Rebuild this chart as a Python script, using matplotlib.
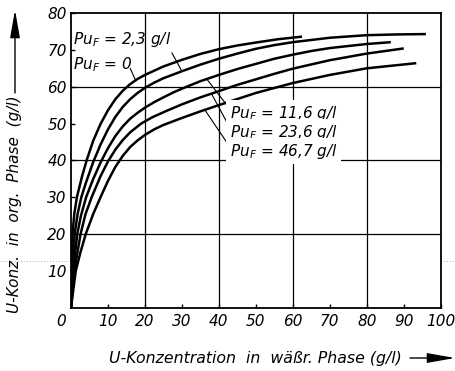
import matplotlib
matplotlib.use("Agg")
import matplotlib.pyplot as plt
from matplotlib.lines import Line2D
from matplotlib.patches import FancyArrowPatch
import matplotlib.transforms as mtransforms

# ---- data ----
c0_x = [0, 0.1, 0.4, 0.9, 1.6, 3, 4.3, 6, 8, 10, 12, 14, 16, 18, 20, 25, 30, 35, 40, 45, 50, 56, 62.5]
c0_y = [0, 10, 20, 25.5, 30, 35.7, 40.2, 45.3, 49.9, 53.6, 56.6, 58.9, 60.7, 62.1, 63.2, 65.5, 67.3, 68.9, 70.2, 71.2, 72, 72.9, 73.6]

c23_x = [0, 0.4, 1.0, 1.8, 2.8, 4, 6, 8, 10, 12, 14, 16, 18, 20, 22.5, 25, 30, 35, 40, 45, 50, 55, 60, 70, 80, 88, 96]
c23_y = [0, 10, 20, 25.5, 30, 33.8, 39.5, 44.3, 48.4, 51.8, 54.5, 56.6, 58.3, 59.7, 61.1, 62.3, 64.2, 66.0, 67.6, 69.0, 70.3, 71.3, 72.1, 73.3, 74, 74.2, 74.3]

c116_x = [0, 0.6, 1.7, 2.7, 4.1, 6, 8, 10, 12, 14, 16, 18, 20, 22.5, 25, 28, 31.3, 35, 40, 45, 50, 55, 60, 65, 70, 80, 86.5]
c116_y = [0, 10, 20, 25, 30, 34.9, 39.4, 43.3, 46.6, 49.2, 51.3, 52.9, 54.3, 55.8, 57.1, 58.6, 60, 61.5, 63.2, 64.8, 66.2, 67.6, 68.7, 69.7, 70.5, 71.6, 72.1]

c236_x = [0, 0.9, 2.6, 3.9, 5.6, 8, 10, 12, 14, 16, 19, 22, 26, 30, 35, 40, 45, 50, 55, 60, 70, 80, 90]
c236_y = [0, 10, 20, 25.3, 30, 35.7, 39.7, 42.9, 45.5, 47.6, 50, 51.7, 53.5, 55.2, 57.1, 58.8, 60.5, 62, 63.5, 64.9, 67.2, 69, 70.4]

c467_x = [0, 1.3, 2.5, 4.0, 6, 8, 10, 12, 14, 16, 18, 20, 22.5, 25, 30, 35, 40, 50, 60, 70, 80, 93.4]
c467_y = [0, 10, 14.8, 20, 25.4, 30, 34.4, 38.2, 41.2, 43.6, 45.4, 46.9, 48.4, 49.6, 51.5, 53.3, 55, 58.3, 61, 63.2, 65, 66.4]

curves_x = [c0_x, c23_x, c116_x, c236_x, c467_x]
curves_y = [c0_y, c23_y, c116_y, c236_y, c467_y]

labels = [r"Pu$_F$ = 0", r"Pu$_F$ = 2,3 g/l", r"Pu$_F$ = 11,6 g/l",
          r"Pu$_F$ = 23,6 g/l", r"Pu$_F$ = 46,7 g/l"]

x_ticks = [0, 10, 20, 30, 40, 50, 60, 70, 80, 90, 100]
y_ticks = [10, 20, 30, 40, 50, 60, 70, 80]
grid_x = [20, 40, 60, 80]
grid_y = [20, 40, 60]

xlabel = "U-Konzentration  in  wäßr. Phase (g/l)"
ylabel = "U-Konz.  in  org.  Phase  (g/l)"

# ---- figure ----
plt.rcParams['font.family'] = ['DejaVu Sans']
plt.rcParams['mathtext.fontset'] = 'dejavusans'
plt.rcParams['mathtext.default'] = 'it'

W, H = 456, 371
fig = plt.figure(figsize=(W / 100, H / 100), dpi=100)
ax = fig.add_axes([71 / W, 1 - 307.5 / H, (440.7 - 71) / W, (307.5 - 13.1) / H])
ax.set_xlim(0, 100)
ax.set_ylim(0, 80)

for g in grid_x:
    ax.axvline(g, color='black', lw=0.9, zorder=1)
for g in grid_y:
    ax.axhline(g, color='black', lw=0.9, zorder=1)

for xs, ys in zip(curves_x, curves_y):
    ax.plot(xs, ys, color='black', lw=1.8, solid_capstyle='butt', solid_joinstyle='round', zorder=3)

for s in ax.spines.values():
    s.set_linewidth(1.3)

ax.set_xticks(x_ticks)
ax.set_yticks(y_ticks)
ax.set_xticklabels([str(v) for v in x_ticks])
ax.set_yticklabels([str(v) for v in y_ticks])
ax.tick_params(direction='in', length=3, width=1, labelsize=11, pad=3)
ax.tick_params(axis='x', pad=5)
for t in ax.get_xticklabels() + ax.get_yticklabels():
    t.set_fontstyle('italic')
# shift the "0" x tick label left
xl0 = ax.get_xticklabels()[0]
xl0.set_transform(xl0.get_transform() + mtransforms.ScaledTranslation(-10 / 100, 0, fig.dpi_scale_trans))

tkw = dict(fontsize=11, fontstyle='italic', va='center', ha='left', zorder=4)
# upper labels
ax.text(0.5, 65.9, labels[0], **tkw)
ax.text(0.5, 72.7, labels[1], **tkw)
# lower labels with white background
bb = dict(facecolor='white', edgecolor='none', pad=2.5)
ax.text(43, 52.8, labels[2], bbox=bb, **tkw)
ax.text(43, 47.6, labels[3], bbox=bb, **tkw)
ax.text(43, 42.5, labels[4], bbox=bb, **tkw)

lk = dict(arrowprops=dict(arrowstyle='-', lw=0.8, color='black', shrinkA=0, shrinkB=0), zorder=3)
ax.annotate('', xy=(17.5, 61.7), xytext=(16.0, 65.0), **lk)
ax.annotate('', xy=(30, 64.2), xytext=(27.3, 69.2), **lk)
ax.annotate('', xy=(36.7, 62.1), xytext=(43, 53.9), **lk)
ax.annotate('', xy=(38, 58.1), xytext=(43.2, 48.4), **lk)
ax.annotate('', xy=(36.2, 53.7), xytext=(43.2, 43.3), **lk)

# axis labels
fig.text(255 / W, 1 - 358 / H, xlabel, fontsize=11.3, fontstyle='italic', ha='center', va='center')
fig.text(15 / W, 1 - 204.5 / H, ylabel, fontsize=11, fontstyle='italic', ha='center', va='center', rotation=90)

ak = dict(arrowstyle='-|>,head_length=1.7,head_width=0.3', lw=1.0, color='black',
          shrinkA=0, shrinkB=0, mutation_scale=10)
fig.add_artist(FancyArrowPatch((410 / W, 1 - 358 / H), (455 / W, 1 - 358 / H),
                               transform=fig.transFigure, **ak))
fig.add_artist(FancyArrowPatch((15 / W, 1 - 93 / H), (15 / W, 1 - 10 / H),
                               transform=fig.transFigure, **ak))

# faint dotted scan line
fig.add_artist(Line2D([0, 1], [1 - 261 / H, 1 - 261 / H], transform=fig.transFigure,
                      color='#aaaaaa', lw=0.7, ls=(0, (1, 2)), zorder=0))

fig.savefig('out.png', dpi=100)
